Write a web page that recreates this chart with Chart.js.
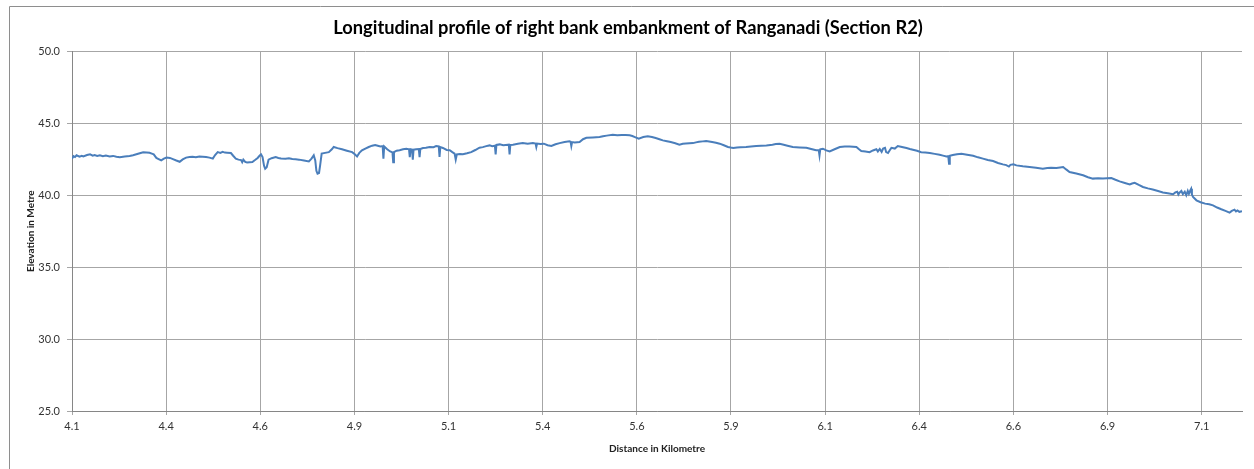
<!DOCTYPE html>
<html>
<head>
<meta charset="utf-8">
<title>Longitudinal profile - Ranganadi R2</title>
<script src="https://cdn.jsdelivr.net/npm/chart.js@4.4.0/dist/chart.umd.min.js"></script>
<style>
    body { margin: 0; background: #ffffff; }
    #wrap { width: 1254px; height: 469px; position: relative; }
</style>
</head>
<body>
<div id="wrap"><canvas id="profile"></canvas></div>
<script>
// distancia (km) y cota (m), 10 por fila
const distance = [
    4.100, 4.104, 4.108, 4.112, 4.120, 4.126, 4.130, 4.140, 4.148, 4.155,
    4.160, 4.167, 4.174, 4.182, 4.190, 4.200, 4.209, 4.218, 4.227, 4.240,
    4.253, 4.262, 4.271, 4.280, 4.289, 4.298, 4.306, 4.312, 4.317, 4.324,
    4.330, 4.337, 4.344, 4.351, 4.360, 4.368, 4.377, 4.386, 4.394, 4.403,
    4.412, 4.420, 4.429, 4.438, 4.447, 4.456, 4.465, 4.474, 4.480, 4.487,
    4.494, 4.500, 4.506, 4.512, 4.522, 4.528, 4.535, 4.542, 4.549, 4.552,
    4.555, 4.560, 4.565, 4.572, 4.579, 4.586, 4.593, 4.598, 4.602, 4.606,
    4.610, 4.613, 4.617, 4.622, 4.630, 4.641, 4.648, 4.655, 4.667, 4.676,
    4.685, 4.694, 4.703, 4.716, 4.729, 4.736, 4.742, 4.746, 4.749, 4.752,
    4.756, 4.759, 4.763, 4.772, 4.782, 4.790, 4.795, 4.805, 4.817, 4.830,
    4.844, 4.851, 4.857, 4.863, 4.870, 4.879, 4.888, 4.897, 4.905, 4.912,
    4.919, 4.925, 4.927, 4.929, 4.937, 4.945, 4.951, 4.953, 4.955, 4.962,
    4.970, 4.979, 4.988, 4.995, 4.997, 4.999, 5.003, 5.005, 5.007, 5.014,
    5.021, 5.023, 5.025, 5.032, 5.040, 5.050, 5.060, 5.067, 5.074, 5.076,
    5.078, 5.085, 5.095, 5.103, 5.110, 5.116, 5.119, 5.122, 5.130, 5.138,
    5.149, 5.160, 5.171, 5.182, 5.191, 5.200, 5.209, 5.216, 5.223, 5.225,
    5.227, 5.236, 5.245, 5.252, 5.260, 5.262, 5.264, 5.271, 5.284, 5.297,
    5.310, 5.324, 5.331, 5.333, 5.335, 5.344, 5.353, 5.363, 5.373, 5.384,
    5.395, 5.408, 5.421, 5.424, 5.426, 5.428, 5.435, 5.448, 5.457, 5.466,
    5.483, 5.501, 5.510, 5.520, 5.536, 5.548, 5.560, 5.570, 5.581, 5.588,
    5.595, 5.605, 5.617, 5.629, 5.640, 5.650, 5.660, 5.669, 5.680, 5.690,
    5.702, 5.713, 5.722, 5.730, 5.749, 5.757, 5.765, 5.775, 5.784, 5.792,
    5.800, 5.810, 5.820, 5.831, 5.842, 5.849, 5.856, 5.866, 5.875, 5.890,
    5.903, 5.917, 5.930, 5.944, 5.960, 5.969, 5.979, 5.990, 6.000, 6.014,
    6.032, 6.050, 6.063, 6.076, 6.083, 6.085, 6.087, 6.094, 6.103, 6.112,
    6.125, 6.139, 6.152, 6.165, 6.183, 6.190, 6.196, 6.207, 6.218, 6.227,
    6.236, 6.240, 6.245, 6.250, 6.254, 6.259, 6.262, 6.267, 6.272, 6.276,
    6.285, 6.293, 6.304, 6.316, 6.325, 6.333, 6.344, 6.355, 6.366, 6.378,
    6.391, 6.404, 6.413, 6.422, 6.427, 6.429, 6.431, 6.439, 6.450, 6.462,
    6.477, 6.493, 6.506, 6.519, 6.532, 6.546, 6.559, 6.572, 6.581, 6.588,
    6.592, 6.600, 6.608, 6.625, 6.643, 6.660, 6.678, 6.690, 6.700, 6.714,
    6.724, 6.732, 6.740, 6.749, 6.767, 6.785, 6.798, 6.811, 6.825, 6.838,
    6.849, 6.860, 6.871, 6.882, 6.896, 6.909, 6.915, 6.922, 6.933, 6.944,
    6.957, 6.970, 6.984, 6.997, 7.010, 7.024, 7.030, 7.035, 7.038, 7.041,
    7.046, 7.050, 7.055, 7.059, 7.063, 7.066, 7.070, 7.072, 7.074, 7.077,
    7.086, 7.097, 7.109, 7.120, 7.130, 7.141, 7.152, 7.163, 7.174, 7.180,
    7.187, 7.191, 7.195, 7.200, 7.207
];
const elevation = [
    42.55, 42.72, 42.66, 42.78, 42.68, 42.74, 42.70, 42.80, 42.85, 42.76,
    42.80, 42.74, 42.78, 42.72, 42.76, 42.70, 42.74, 42.68, 42.64, 42.70,
    42.73, 42.78, 42.85, 42.92, 42.99, 42.98, 42.96, 42.90, 42.85, 42.60,
    42.52, 42.43, 42.55, 42.62, 42.60, 42.52, 42.42, 42.33, 42.50, 42.62,
    42.66, 42.68, 42.64, 42.70, 42.68, 42.66, 42.62, 42.55, 42.80, 43.00,
    42.95, 43.02, 42.97, 42.96, 42.94, 42.75, 42.55, 42.48, 42.45, 42.30,
    42.48, 42.32, 42.28, 42.30, 42.31, 42.45, 42.60, 42.75, 42.85, 42.66,
    42.05, 41.85, 41.95, 42.48, 42.58, 42.66, 42.60, 42.56, 42.55, 42.58,
    42.52, 42.50, 42.48, 42.42, 42.36, 42.55, 42.78, 42.43, 41.70, 41.50,
    41.55, 42.10, 42.90, 42.95, 43.00, 43.20, 43.36, 43.28, 43.20, 43.10,
    43.00, 42.85, 42.70, 42.95, 43.13, 43.25, 43.36, 43.45, 43.50, 43.45,
    43.40, 43.42, 42.55, 43.40, 43.20, 43.05, 42.98, 42.30, 43.00, 43.10,
    43.13, 43.20, 43.24, 43.20, 42.66, 43.20, 43.18, 42.48, 43.17, 43.20,
    43.22, 42.66, 43.22, 43.29, 43.30, 43.36, 43.35, 43.43, 43.40, 42.66,
    43.35, 43.29, 43.15, 43.13, 43.00, 42.90, 42.48, 42.85, 42.88, 42.85,
    42.92, 43.00, 43.15, 43.31, 43.35, 43.42, 43.47, 43.42, 43.45, 42.85,
    43.50, 43.54, 43.48, 43.50, 43.52, 42.85, 43.50, 43.52, 43.58, 43.63,
    43.58, 43.63, 43.60, 43.36, 43.60, 43.56, 43.59, 43.48, 43.43, 43.55,
    43.63, 43.70, 43.75, 43.72, 43.43, 43.70, 43.68, 43.70, 43.90, 44.00,
    44.02, 44.05, 44.10, 44.15, 44.21, 44.18, 44.20, 44.19, 44.17, 44.12,
    44.05, 43.94, 44.05, 44.10, 44.05, 43.98, 43.90, 43.82, 43.76, 43.70,
    43.62, 43.52, 43.58, 43.60, 43.63, 43.68, 43.72, 43.75, 43.77, 43.74,
    43.70, 43.65, 43.59, 43.48, 43.36, 43.32, 43.29, 43.32, 43.34, 43.36,
    43.40, 43.43, 43.45, 43.47, 43.52, 43.56, 43.59, 43.52, 43.45, 43.36,
    43.33, 43.31, 43.22, 43.13, 43.15, 42.78, 43.20, 43.24, 43.12, 43.05,
    43.20, 43.36, 43.40, 43.40, 43.36, 43.20, 43.08, 43.05, 43.00, 43.12,
    43.20, 43.05, 43.22, 43.02, 43.25, 43.30, 43.00, 42.94, 43.15, 43.30,
    43.25, 43.43, 43.36, 43.29, 43.22, 43.17, 43.10, 43.00, 42.98, 42.94,
    42.88, 42.82, 42.76, 42.70, 42.72, 42.20, 42.75, 42.80, 42.86, 42.89,
    42.82, 42.75, 42.64, 42.55, 42.46, 42.38, 42.25, 42.15, 42.10, 42.00,
    42.12, 42.15, 42.08, 42.02, 41.97, 41.92, 41.85, 41.90, 41.92, 41.90,
    41.94, 41.97, 41.80, 41.62, 41.52, 41.39, 41.26, 41.16, 41.18, 41.16,
    41.18, 41.20, 41.08, 40.97, 40.86, 40.76, 40.82, 40.87, 40.72, 40.58,
    40.48, 40.40, 40.30, 40.20, 40.14, 40.07, 40.20, 40.25, 40.05, 40.18,
    40.30, 40.08, 40.25, 40.00, 40.30, 40.10, 40.35, 40.45, 40.05, 39.88,
    39.65, 39.52, 39.42, 39.38, 39.30, 39.15, 39.03, 38.92, 38.80, 38.92,
    39.00, 38.88, 38.95, 38.85, 38.89
];

// marcas del eje x (Excel muestra el valor redondeado)
const xTickValues = [4.10, 4.35, 4.60, 4.85, 5.10, 5.35, 5.60, 5.85, 6.10, 6.35, 6.60, 6.85, 7.10];
const xTickLabels = ["4.1", "4.4", "4.6", "4.9", "5.1", "5.4", "5.6", "5.9", "6.1", "6.4", "6.6", "6.9", "7.1"];
const yTickValues = [25, 30, 35, 40, 45, 50];

const chartTitle = "Longitudinal profile of right bank embankment of Ranganadi (Section R2)";

const points = distance.map((d, i) => ({ x: d, y: elevation[i] }));

// marco gris y titulo
const frame = {
    id: "frame",
    beforeDraw(chart) {
        const ctx = chart.ctx;
        ctx.save();
        ctx.strokeStyle = "#8e8e8e";
        ctx.lineWidth = 1;
        ctx.beginPath();
        ctx.moveTo(9.5, 469);
        ctx.lineTo(9.5, 6.5);
        ctx.lineTo(1254, 6.5);
        ctx.stroke();
        ctx.fillStyle = "#000000";
        ctx.font = "bold 18.3px Lato";
        ctx.textAlign = "center";
        ctx.textBaseline = "middle";
        ctx.fillText(chartTitle, 628, 28.5);
        ctx.restore();
    }
};

const graph = document.getElementById("profile");

const config = {
    type: "line",
    data: {
        datasets: [{
            label: "Elevation",
            data: points,
            borderColor: "#4a7ebb",
            backgroundColor: "#4a7ebb",
            borderWidth: 2,
            pointRadius: 0,
            tension: 0,
            fill: false
        }]
    },
    options: {
        responsive: true,
        maintainAspectRatio: false,
        animation: false,
        layout: { padding: { left: 0, right: 12, top: 51.5, bottom: 0 } },
        plugins: {
            legend: { display: false },
            tooltip: { enabled: false },
            title: { display: false }
        },
        scales: {
            x: {
                type: "linear",
                min: 4.1,
                max: 7.207,
                afterBuildTicks(scale) {
                    scale.ticks = xTickValues.map((v) => ({ value: v }));
                },
                afterFit(scale) { scale.height = 58; },
                ticks: {
                    autoSkip: false,
                    maxRotation: 0,
                    padding: 5,
                    color: "#333333",
                    font: { family: "Lato", size: 11 },
                    callback: (value) => {
                        const k = xTickValues.findIndex((v) => Math.abs(v - value) < 1e-6);
                        return k >= 0 ? xTickLabels[k] : "";
                    }
                },
                grid: { color: "#a6a6a6", lineWidth: 1, tickLength: 4, drawTicks: true },
                border: { color: "#868686", width: 1 },
                title: {
                    display: true,
                    text: "Distance in Kilometre",
                    color: "#222222",
                    font: { family: "Lato", size: 10, weight: "bold" },
                    padding: { top: 0, bottom: 14 }
                }
            },
            y: {
                min: 25,
                max: 50,
                afterBuildTicks(scale) {
                    scale.ticks = yTickValues.map((v) => ({ value: v }));
                },
                afterFit(scale) { scale.width = 72; },
                ticks: {
                    padding: 7,
                    color: "#333333",
                    font: { family: "Lato", size: 11 },
                    callback: (value) => Number(value).toFixed(1)
                },
                grid: { color: "#a6a6a6", lineWidth: 1, tickLength: 5 },
                border: { color: "#868686", width: 1 },
                title: {
                    display: true,
                    text: "Elevation in Metre",
                    color: "#222222",
                    font: { family: "Lato", size: 10, weight: "bold" },
                    padding: { top: 25, bottom: 0 }
                }
            }
        }
    },
    plugins: [frame]
};

let myChart = new Chart(graph, config);
</script>
</body>
</html>
